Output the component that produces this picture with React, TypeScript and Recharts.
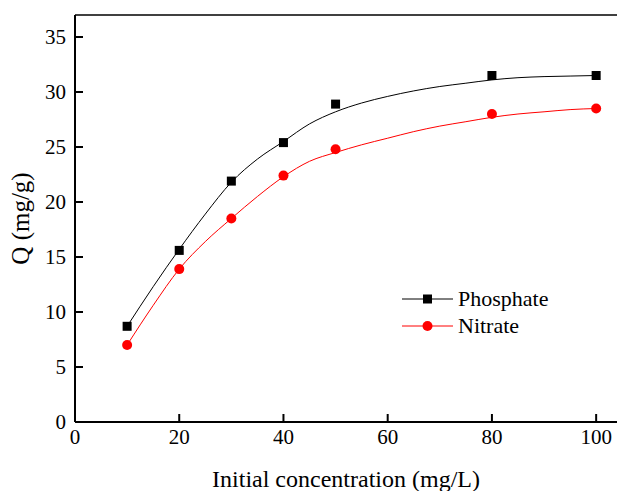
import React from 'react';
import { ComposedChart, Line, Scatter, XAxis, YAxis, ReferenceLine } from 'recharts';

const concentrations = [10, 20, 30, 40, 50, 80, 100];
const phosphateQ = [8.7, 15.6, 21.9, 25.4, 28.9, 31.5, 31.5];
const nitrateQ = [7.0, 13.9, 18.5, 22.4, 24.8, 28.0, 28.5];

const fitX = [10, 15, 20, 25, 30, 35, 40, 45, 50, 55, 60, 65, 70, 75, 80, 85, 90, 95, 100];
const phosphateFit = [8.7, 12.3, 15.7, 18.9, 21.8, 23.9, 25.5, 27.1, 28.2, 29.0, 29.6, 30.1, 30.5, 30.8, 31.1, 31.3, 31.4, 31.45, 31.5];
const nitrateFit = [7.0, 10.6, 13.9, 16.4, 18.5, 20.5, 22.3, 23.7, 24.5, 25.2, 25.8, 26.4, 26.9, 27.3, 27.7, 28.0, 28.2, 28.4, 28.5];

const xTicks = [0, 20, 40, 60, 80, 100];
const yTicks = [0, 5, 10, 15, 20, 25, 30, 35];

const legendItems = [
  { name: 'Phosphate', color: '#000000', square: true },
  { name: 'Nitrate', color: '#ff0000', square: false },
];

const phosphatePoints = concentrations.map((c, i) => ({ x: c, y: phosphateQ[i] }));
const nitratePoints = concentrations.map((c, i) => ({ x: c, y: nitrateQ[i] }));
const phosphateCurve = fitX.map((c, i) => ({ x: c, y: phosphateFit[i] }));
const nitrateCurve = fitX.map((c, i) => ({ x: c, y: nitrateFit[i] }));

const FONT = '"Liberation Serif", "Times New Roman", serif';

const SquareShape = (props: any) => (
  <rect x={props.cx - 4.5} y={props.cy - 4.5} width={9} height={9} fill="#000" />
);
const CircleShape = (props: any) => (
  <circle cx={props.cx} cy={props.cy} r={5} fill="#ff0000" />
);

const LegendBox = () => (
  <div
    style={{
      position: 'absolute',
      left: 402,
      top: 285,
      fontFamily: FONT,
      fontSize: 22,
      color: '#000',
      lineHeight: '27px',
    }}
  >
    {legendItems.map((e) => (
      <div key={e.name} style={{ display: 'flex', alignItems: 'center', height: 27 }}>
        <svg width={56} height={14} style={{ marginRight: 0 }}>
          <line x1={0} y1={7} x2={51} y2={7} stroke={e.color} strokeWidth={1} />
          {e.square ? (
            <rect x={21} y={2.5} width={9} height={9} fill={e.color} />
          ) : (
            <circle cx={25.5} cy={7} r={5} fill={e.color} />
          )}
        </svg>
        <span>{e.name}</span>
      </div>
    ))}
  </div>
);

export default function App() {
  return (
    <div style={{ position: 'absolute', left: 0, top: 0, width: 618, height: 491, background: '#fff' }}>
      <ComposedChart width={618} height={491} margin={{ top: 15, right: 1, left: 0, bottom: 0 }}>
        <XAxis
          type="number"
          dataKey="x"
          domain={[0, 104]}
          ticks={xTicks}
          allowDataOverflow
          stroke="#000"
          strokeWidth={2}
          tickSize={-8}
          tickMargin={15}
          height={69}
          tick={{ fill: '#000', fontSize: 21, fontFamily: FONT }}
          label={{ value: 'Initial concentration (mg/L)', position: 'insideBottom', offset: 4, fill: '#000', fontSize: 24, fontFamily: FONT }}
        />
        <YAxis
          type="number"
          dataKey="y"
          domain={[0, 37]}
          ticks={yTicks}
          allowDataOverflow
          stroke="#000"
          strokeWidth={2}
          tickSize={-8}
          tickMargin={17}
          width={75}
          tick={{ fill: '#000', fontSize: 21, fontFamily: FONT }}
          label={{ value: 'Q (mg/g)', angle: -90, position: 'insideLeft', offset: 20, fill: '#000', fontSize: 25, fontFamily: FONT, style: { textAnchor: 'middle' } }}
        />
        <ReferenceLine y={37} stroke="#000" strokeWidth={1.5} />
        <Line data={phosphateCurve} dataKey="y" type="monotone" stroke="#000" strokeWidth={1} dot={false} isAnimationActive={false} legendType="none" />
        <Line data={nitrateCurve} dataKey="y" type="monotone" stroke="#ff0000" strokeWidth={1} dot={false} isAnimationActive={false} legendType="none" />
        <Scatter data={phosphatePoints} dataKey="y" shape={SquareShape} isAnimationActive={false} name="Phosphate" />
        <Scatter data={nitratePoints} dataKey="y" shape={CircleShape} isAnimationActive={false} name="Nitrate" />
      </ComposedChart>
      <LegendBox />
    </div>
  );
}
